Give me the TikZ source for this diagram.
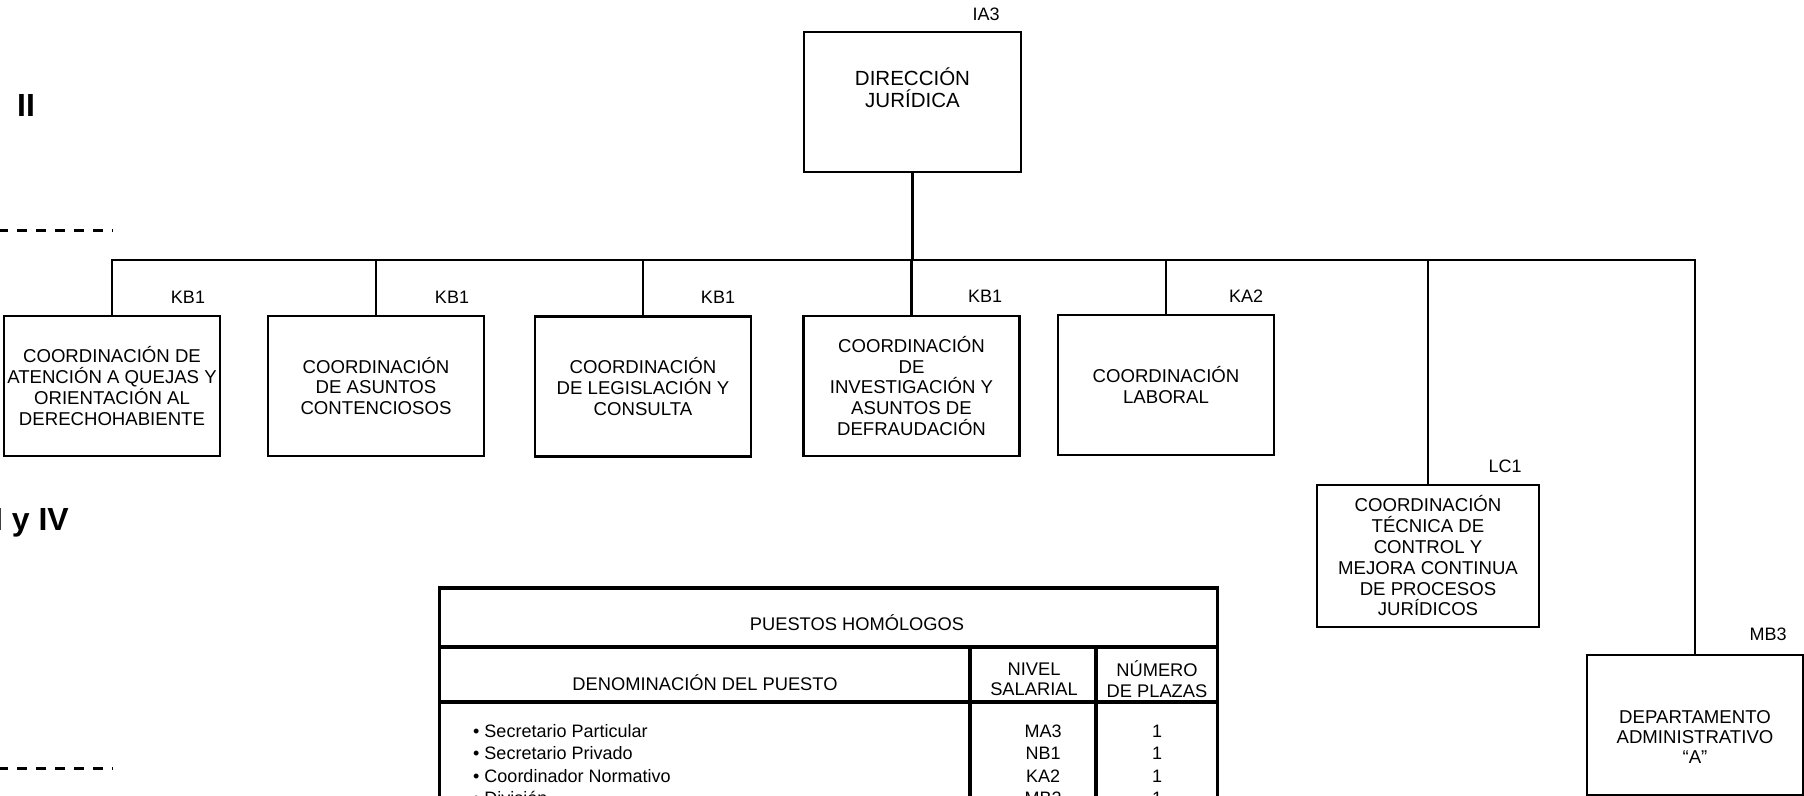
\documentclass[tikz,border=0pt]{standalone}
\usepackage{fontspec}
\setmainfont{Liberation Sans}
\begin{document}
\begin{tikzpicture}[x=1pt,y=-1pt,
  box/.style={draw, line width=2.9pt, minimum width=216pt, minimum height=140pt, inner sep=0pt, align=center, font=\fontsize{18.6}{20.8}\selectfont},
  boxtext/.style={inner sep=0pt, align=center, font=\fontsize{18.6}{20.2}\selectfont},
  dirtext/.style={inner sep=0pt, align=center, font=\fontsize{20.5}{22.5}\selectfont},
  lab/.style={inner sep=0pt, font=\fontsize{18}{20}\selectfont},
  conn/.style={line width=2.8pt},
  sepline/.style={line width=3pt, dash pattern=on 10pt off 9pt},
  tline/.style={line width=3.2pt},
  ttext/.style={inner sep=0pt, align=center, font=\fontsize{18.3}{20.5}\selectfont},
  trow/.style={inner sep=0pt, font=\fontsize{18}{20}\selectfont},
  bigbold/.style={inner sep=0pt, font=\fontsize{32}{36}\selectfont\bfseries}]
\useasboundingbox (0,0) rectangle (1804,795);
\clip (0,0) rectangle (1804,795);

% side headings
\node[bigbold, anchor=base] (nII) at (26,116.5) {II};
\node[bigbold, anchor=base east] (nIIIIV) at (69,530.5) {I y IV};
\coordinate (d1a) at (-2,230); \coordinate (d1b) at (113,230);
\coordinate (d2a) at (-2,768); \coordinate (d2b) at (113,768);
\draw[sepline] (d1a) -- (d1b);
\draw[sepline] (d2a) -- (d2b);

% boxes
\node[box, minimum width=217pt] (dir) at (912.5,102) {};
\node[dirtext] (dirt) at (912.5,87.5) {DIRECCIÓN\\JURÍDICA};
\node[box] (c1) at (112,386) {COORDINACIÓN DE\\ATENCIÓN A QUEJAS Y\\ORIENTACIÓN AL\\DERECHOHABIENTE};
\node[box] (c2) at (376,386) {COORDINACIÓN\\DE ASUNTOS\\CONTENCIOSOS};
\node[box] (c3) at (643,386.5) {COORDINACIÓN\\DE LEGISLACIÓN Y\\CONSULTA};
\node[box] (c4) at (911.5,386) {COORDINACIÓN\\DE\\INVESTIGACIÓN Y\\ASUNTOS DE\\DEFRAUDACIÓN};
\node[box] (c5) at (1166,385) {COORDINACIÓN\\LABORAL};
\node[box, minimum width=222pt, minimum height=142pt] (c6) at (1428,556) {COORDINACIÓN\\TÉCNICA DE\\CONTROL Y\\MEJORA CONTINUA\\DE PROCESOS\\JURÍDICOS};
\node[box] (c7) at (1695,725) {};
\node[boxtext] (c7t) at (1695,737) {DEPARTAMENTO\\ADMINISTRATIVO\\“A”};

% level labels
\node[lab] (lIA3) at (986,14) {IA3};
\node[lab] (l1) at (188,297) {KB1};
\node[lab] (l2) at (452,297) {KB1};
\node[lab] (l3) at (718,297) {KB1};
\node[lab] (l4) at (985,296) {KB1};
\node[lab] (l5) at (1246,296) {KA2};
\node[lab] (l6) at (1505,466) {LC1};
\node[lab] (l7) at (1768,634) {MB3};

% connectors
\coordinate (bus) at (0,260);
\draw[conn] (c1.north) -- (c1.north |- bus) -| (c7.north);
\draw[conn] (dir.south) -- (dir.south |- bus);
\draw[conn] (c2.north) -- (c2.north |- bus);
\draw[conn] (c3.north) -- (c3.north |- bus);
\draw[conn] (c4.north) -- (c4.north |- bus);
\draw[conn] (c5.north) -- (c5.north |- bus);
\draw[conn] (c6.north) -- (c6.north |- bus);

% table
\coordinate (tTL) at (439.5,588); \coordinate (tTR) at (1217.5,588);
\coordinate (tBL) at (439.5,830); \coordinate (tBR) at (1217.5,830);
\coordinate (h1L) at (439.5,647); \coordinate (h1R) at (1217.5,647);
\coordinate (h2L) at (439.5,702); \coordinate (h2R) at (1217.5,702);
\coordinate (v1T) at (970,647); \coordinate (v1B) at (970,830);
\coordinate (v2T) at (1096,647); \coordinate (v2B) at (1096,830);
\draw[tline] (tBL) -- (tTL) -- (tTR) -- (tBR);
\draw[tline] (h1L) -- (h1R);
\draw[tline] (h2L) -- (h2R);
\draw[tline] (v1T) -- (v1B);
\draw[tline] (v2T) -- (v2B);

\node[ttext] (th) at (857,623) {PUESTOS HOMÓLOGOS};
\node[ttext] (tc1) at (705,683) {DENOMINACIÓN DEL PUESTO};
\node[ttext] (tc2) at (1034,679.5) {NIVEL\\SALARIAL};
\node[ttext] (tc3) at (1157,679) {NÚMERO\\DE PLAZAS};

\node[trow, anchor=base west] (r1a) at (473,737) {• Secretario Particular};
\node[trow, anchor=base west] (r2a) at (473,759.5) {• Secretario Privado};
\node[trow, anchor=base west] (r3a) at (473,782) {• Coordinador Normativo};
\node[trow, anchor=base west] (r4a) at (473,804.5) {• División};
\node[trow, anchor=base] (r1b) at (1043,737) {MA3};
\node[trow, anchor=base] (r2b) at (1043,759.5) {NB1};
\node[trow, anchor=base] (r3b) at (1043,782) {KA2};
\node[trow, anchor=base] (r4b) at (1043,804.5) {MB2};
\node[trow, anchor=base] (r1c) at (1157,737) {1};
\node[trow, anchor=base] (r2c) at (1157,759.5) {1};
\node[trow, anchor=base] (r3c) at (1157,782) {1};
\node[trow, anchor=base] (r4c) at (1157,804.5) {1};
\end{tikzpicture}
\end{document}
